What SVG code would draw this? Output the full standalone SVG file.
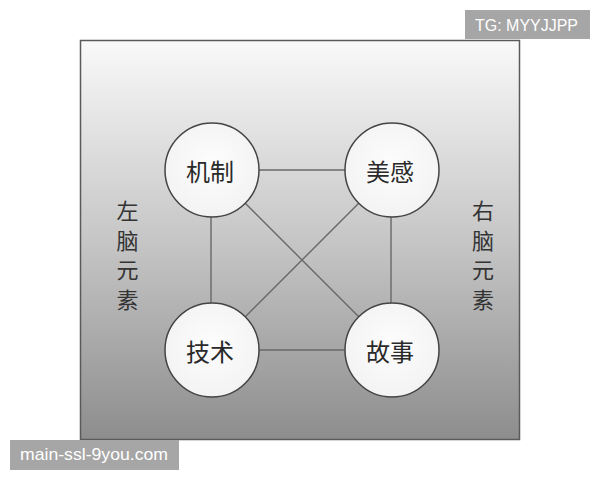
<svg xmlns="http://www.w3.org/2000/svg" width="600" height="480" viewBox="0 0 600 480">
  <defs>
    <linearGradient id="bg" x1="0" y1="0" x2="0" y2="1">
      <stop offset="0" stop-color="#f9f9f9"/>
      <stop offset="0.5" stop-color="#c6c6c6"/>
      <stop offset="1" stop-color="#8d8d8d"/>
    </linearGradient>
    <radialGradient id="cf" cx="0.5" cy="0.45" r="0.6">
      <stop offset="0" stop-color="#fdfdfd"/>
      <stop offset="1" stop-color="#f2f2f2"/>
    </radialGradient>
  </defs>
  <style>
    .node circle { fill: url(#cf); stroke: #444; stroke-width: 1.5; }
    .node text { font-family: "Noto Sans CJK SC", "Noto Sans", sans-serif; font-size: 24px; fill: #2a2a2a; text-anchor: middle; dominant-baseline: central; }
    .side { font-family: "Noto Sans CJK SC", "Noto Sans", sans-serif; font-size: 22px; fill: #333; text-anchor: middle; dominant-baseline: central; }
    .conn line { stroke: #686868; stroke-width: 1.4; }
    .wm rect { fill: #a6a6a6; }
    .wm text { font-family: "Liberation Sans", Arial, sans-serif; fill: #ffffff; }
  </style>
  <rect x="80.5" y="40.5" width="439" height="399" fill="url(#bg)" stroke="#5a5a5a" stroke-width="1.5"/>
  <g id="left-label" class="side">
    <text x="127.5" y="209">左</text>
    <text x="127.5" y="238.5">脑</text>
    <text x="127.5" y="268">元</text>
    <text x="127.5" y="297.5">素</text>
  </g>
  <g id="right-label" class="side">
    <text x="483" y="209">右</text>
    <text x="483" y="238.5">脑</text>
    <text x="483" y="268">元</text>
    <text x="483" y="297.5">素</text>
  </g>
  <g id="connectors" class="conn">
    <line x1="212" y1="170" x2="392" y2="170"/>
    <line x1="212" y1="350" x2="392" y2="350"/>
    <line x1="211" y1="170" x2="211" y2="350"/>
    <line x1="391" y1="170" x2="391" y2="350"/>
    <line x1="212" y1="170" x2="392" y2="350"/>
    <line x1="392" y1="170" x2="212" y2="350"/>
  </g>
  <g id="node-jizhi" class="node">
    <circle cx="212" cy="170" r="47"/>
    <text x="210" y="170">机制</text>
  </g>
  <g id="node-meigan" class="node">
    <circle cx="392" cy="170" r="47"/>
    <text x="390" y="170">美感</text>
  </g>
  <g id="node-jishu" class="node">
    <circle cx="212" cy="350" r="47"/>
    <text x="210" y="350">技术</text>
  </g>
  <g id="node-gushi" class="node">
    <circle cx="392" cy="350" r="47"/>
    <text x="390" y="350">故事</text>
  </g>
  <g id="wm-top" class="wm">
    <rect x="465" y="10" width="125" height="29"/>
    <text x="475" y="30.5" font-size="16" textLength="103" lengthAdjust="spacingAndGlyphs">TG: MYYJJPP</text>
  </g>
  <g id="wm-bottom" class="wm">
    <rect x="10" y="440" width="169" height="30"/>
    <text x="20" y="460" font-size="17" textLength="148" lengthAdjust="spacingAndGlyphs">main-ssl-9you.com</text>
  </g>
</svg>
